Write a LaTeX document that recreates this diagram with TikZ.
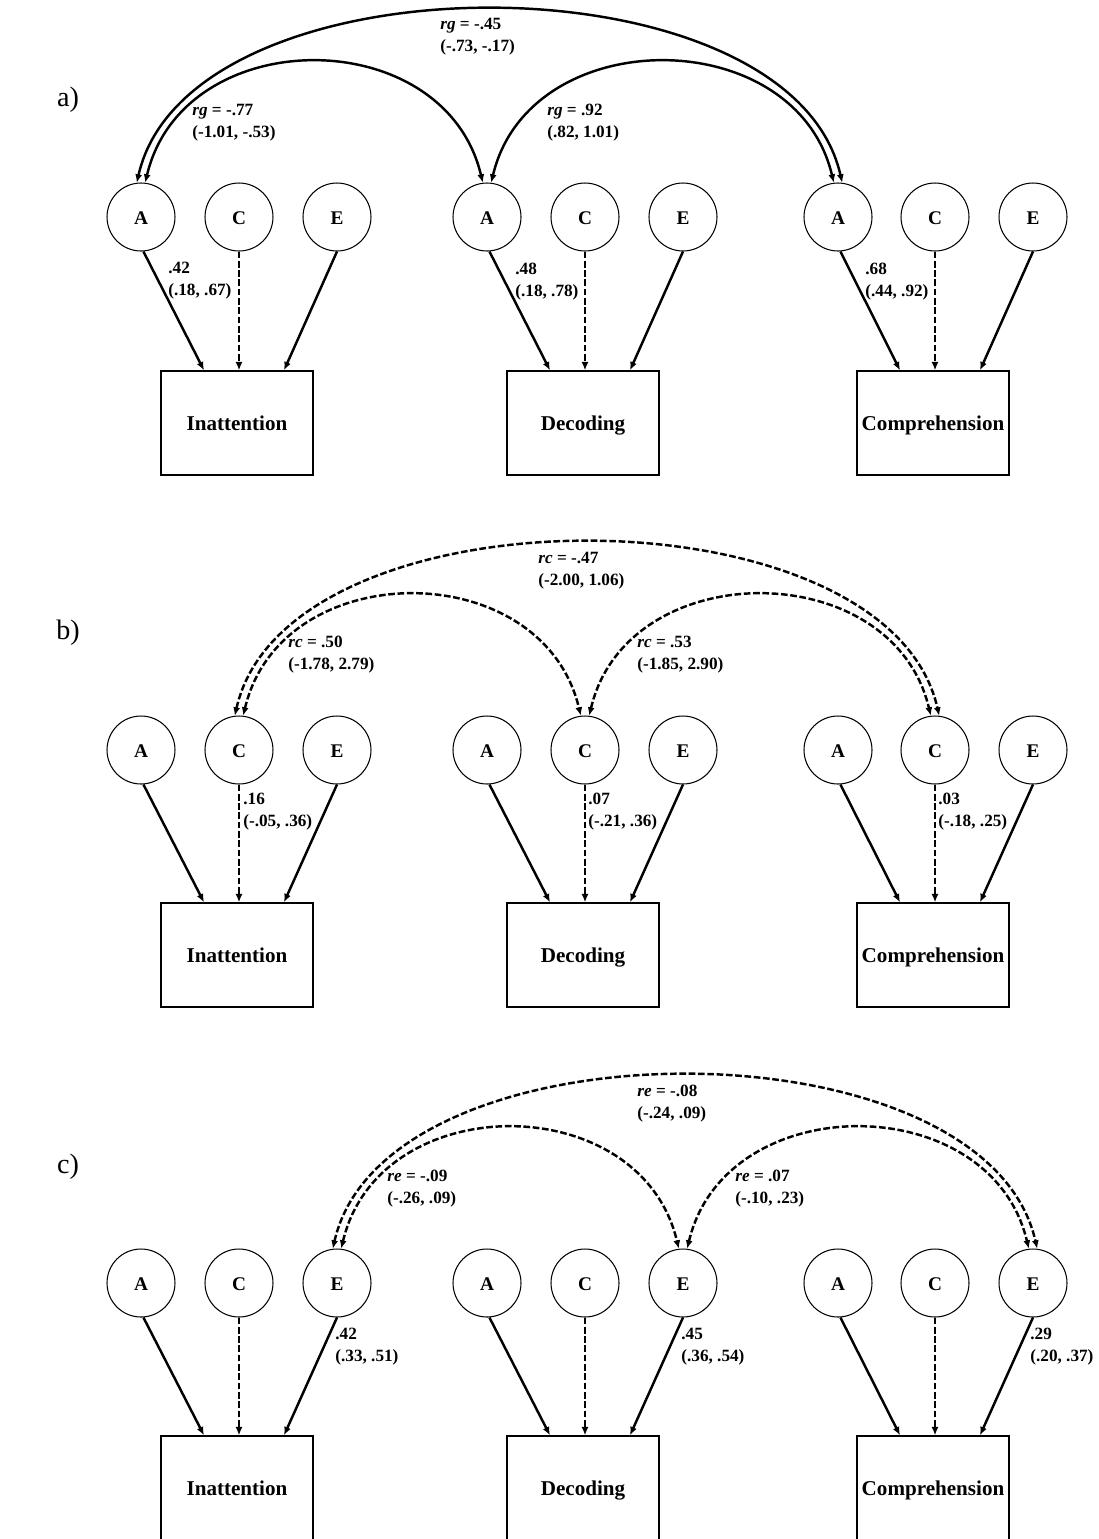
\documentclass[tikz,border=0pt]{standalone}
\usepackage{fontspec}
\setmainfont{Liberation Serif}
\usetikzlibrary{arrows.meta,calc}

\begin{document}
\begin{tikzpicture}[x=0.02cm,y=-0.02cm,
  latent/.style={circle,draw,line width=0.6pt,minimum size=1.36cm,inner sep=0pt,
    text height=0.9em,text depth=0pt,font=\fontsize{11}{13}\selectfont\bfseries},
  measure/.style={rectangle,draw,line width=0.75pt,minimum width=3.04cm,minimum height=2.08cm,
    inner sep=0pt,text height=0.85em,text depth=0pt,font=\fontsize{12}{14}\selectfont\bfseries},
  est/.style={anchor=west,align=left,inner sep=0pt,font=\fontsize{9.8}{12.5}\selectfont\bfseries},
  panel/.style={font=\fontsize{16}{18}\selectfont},
  tip/.tip={Latex[length=4.8pt,width=4pt]},
  load/.style={line width=1.4pt,-tip},
  dsh/.style={dash pattern=on 3.8pt off 1.5pt},
  corr/.style={line width=1.4pt,tip-tip},
  % short arc between neighbouring factors, long arc spanning all three
  near/.style={to path={.. controls +(38,-161) and +(-38,-161) .. (\tikztotarget)}},
  far/.style={to path={.. controls +(52,-231) and +(-52,-231) .. (\tikztotarget)}},
]
\useasboundingbox (0,0) rectangle (1099,1539);

% three panels of A/C/E factors and their measured variables
\foreach \p/\yc/\yb in {a/217/423, b/750/955, c/1283/1488}{
  \foreach \i/\xa/\xc/\xe/\lab in {1/141/239/337/Inattention, 2/487/585/683/Decoding, 3/838/935/1033/Comprehension}{
    \node[latent] (\p A\i) at (\xa,\yc) {A};
    \node[latent] (\p C\i) at (\xc,\yc) {C};
    \node[latent] (\p E\i) at (\xe,\yc) {E};
    \node[measure] (\p M\i) at (\xc-2,\yb) {\lab};
    \draw[load] (\p A\i.-86) -- ($(\p M\i.north)+(-33,0)$);
    \draw[load,dsh] (\p C\i.south) -- (\p C\i.south |- \p M\i.north);
    \draw[load] (\p E\i.south) -- ($(\p M\i.north)+(47,0)$);
  }
}

% panel letters
\node[panel] (la) at (68,100) {a)};
\node[panel] (lb) at (68,633) {b)};
\node[panel] (lc) at (68,1167) {c)};

% a) genetic correlations
\draw[corr] (aA1.83) to[near] (aA2.97);
\draw[corr] (aA2.83) to[near] (aA3.97);
\draw[corr] (aA1.97) to[far] (aA3.83);
\node[est] (ra1) at (440,37) {\textit{rg} = -.45\\(-.73, -.17)};
\node[est] (ra2) at (192,123) {\textit{rg} = -.77\\(-1.01, -.53)};
\node[est] (ra3) at (547,123) {\textit{rg} = .92\\(.82, 1.01)};
\node[est] (pa1) at (168,281) {.42\\(.18, .67)};
\node[est] (pa2) at (515,282) {.48\\(.18, .78)};
\node[est] (pa3) at (865,282) {.68\\(.44, .92)};

% b) shared-environment correlations
\draw[corr,dsh] (bC1.83) to[near] (bC2.97);
\draw[corr,dsh] (bC2.83) to[near] (bC3.97);
\draw[corr,dsh] (bC1.97) to[far] (bC3.83);
\node[est] (rb1) at (538,571) {\textit{rc} = -.47\\(-2.00, 1.06)};
\node[est] (rb2) at (288,655) {\textit{rc} = .50\\(-1.78, 2.79)};
\node[est] (rb3) at (637,655) {\textit{rc} = .53\\(-1.85, 2.90)};
\node[est] (pb1) at (243,812) {.16\\(-.05, .36)};
\node[est] (pb2) at (588,812) {.07\\(-.21, .36)};
\node[est] (pb3) at (938,812) {.03\\(-.18, .25)};

% c) non-shared-environment correlations
\draw[corr,dsh] (cE1.83) to[near] (cE2.97);
\draw[corr,dsh] (cE2.83) to[near] (cE3.97);
\draw[corr,dsh] (cE1.97) to[far] (cE3.83);
\node[est] (rc1) at (637,1104) {\textit{re} = -.08\\(-.24, .09)};
\node[est] (rc2) at (387,1189) {\textit{re} = -.09\\(-.26, .09)};
\node[est] (rc3) at (735,1189) {\textit{re} = .07\\(-.10, .23)};
\node[est] (pc1) at (335,1347) {.42\\(.33, .51)};
\node[est] (pc2) at (681,1347) {.45\\(.36, .54)};
\node[est] (pc3) at (1030,1347) {.29\\(.20, .37)};
\end{tikzpicture}
\end{document}
